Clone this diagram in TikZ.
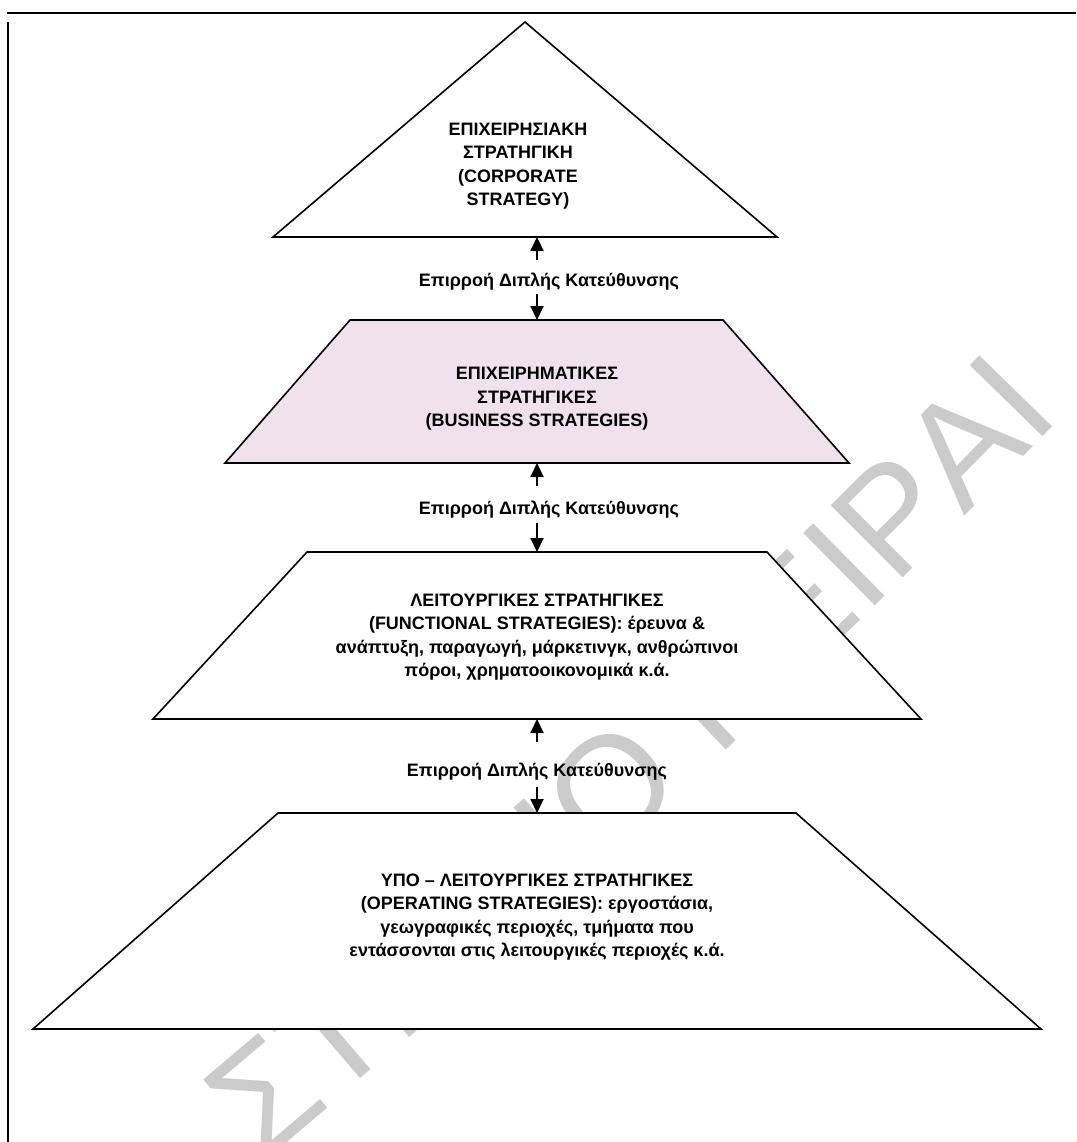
\documentclass[tikz,border=0pt]{standalone}
\usepackage{fontspec}
\setmainfont{Liberation Sans}
\newfontfamily\wmfont{Liberation Sans}
\usetikzlibrary{arrows.meta,decorations.text}
\definecolor{bizpink}{RGB}{239,226,236}
\definecolor{wmgray}{RGB}{203,203,203}
\begin{document}
\begin{tikzpicture}[x=1pt,y=-1pt,
  level/.style={draw=black,line width=1.6pt,line join=miter,fill=white},
  caption/.style={font=\bfseries\fontsize{18}{23.5}\selectfont,align=center,inner sep=0pt},
  influence/.style={font=\bfseries\fontsize{18}{22}\selectfont,inner sep=0pt},
  link/.style={line width=2pt,-{Triangle[width=13pt,length=14pt]}},
  frameline/.style={line width=2pt}
]
\useasboundingbox (0,0) rectangle (1076,1142);

% watermark behind the levels
\begin{scope}
  \clip (0,0) rectangle (1076,1142);
  \path[decorate,decoration={text along path,text color=wmgray,
    text={|\wmfont\fontsize{148}{148}\selectfont|ΣΤΗΜΙΟ ΠΕΙΡΑΙ}}]
    (262,1163) .. controls (515,950) and (820,680) .. (1250,220);
\end{scope}

% page frame
\draw[frameline,line width=2.5pt] (7,13) -- (1076,13);
\draw[frameline] (8,22) -- (8,1142);

% the four levels
\draw[level] (525,22) -- (777,237) -- (273,237) -- cycle;
\draw[level,fill=bizpink] (350,320) -- (723,320) -- (849,463) -- (225,463) -- cycle;
\draw[level] (307,552) -- (767,552) -- (921,719) -- (153,719) -- cycle;
\draw[level] (278,813) -- (796,813) -- (1041,1029) -- (33,1029) -- cycle;

\node[caption] (corp) at (518,166) {ΕΠΙΧΕΙΡΗΣΙΑΚΗ\\ΣΤΡΑΤΗΓΙΚΗ\\(CORPORATE\\STRATEGY)};
\node[caption] (bus) at (537,399) {ΕΠΙΧΕΙΡΗΜΑΤΙΚΕΣ\\ΣΤΡΑΤΗΓΙΚΕΣ\\(BUSINESS STRATEGIES)};
\node[caption] (func) at (537,637) {ΛΕΙΤΟΥΡΓΙΚΕΣ ΣΤΡΑΤΗΓΙΚΕΣ\\(FUNCTIONAL STRATEGIES): έρευνα \&\\ανάπτυξη, παραγωγή, μάρκετινγκ, ανθρώπινοι\\πόροι, χρηματοοικονομικά κ.ά.};
\node[caption] (oper) at (537,917) {ΥΠΟ – ΛΕΙΤΟΥΡΓΙΚΕΣ ΣΤΡΑΤΗΓΙΚΕΣ\\(OPERATING STRATEGIES): εργοστάσια,\\γεωγραφικές περιοχές, τμήματα που\\εντάσσονται στις λειτουργικές περιοχές κ.ά.};

% edge points of the levels
\coordinate (corp-base) at (537,237);
\coordinate (bus-top) at (537,320);
\coordinate (bus-base) at (537,463);
\coordinate (func-top) at (537,552);
\coordinate (func-base) at (537,719);
\coordinate (oper-top) at (537,813);

% two-way influence labels
\node[influence] (inf1) at (549,282) {Επιρροή Διπλής Κατεύθυνσης};
\node[influence] (inf2) at (549,510) {Επιρροή Διπλής Κατεύθυνσης};
\node[influence] (inf3) at (537,772) {Επιρροή Διπλής Κατεύθυνσης};

\coordinate (inf1-up) at (537,260);
\coordinate (inf1-dn) at (537,294);
\coordinate (inf2-up) at (537,486);
\coordinate (inf2-dn) at (537,523);
\coordinate (inf3-up) at (537,742);
\coordinate (inf3-dn) at (537,787);

\draw[link] (inf1-up) -- (corp-base);
\draw[link] (inf1-dn) -- (bus-top);
\draw[link] (inf2-up) -- (bus-base);
\draw[link] (inf2-dn) -- (func-top);
\draw[link] (inf3-up) -- (func-base);
\draw[link] (inf3-dn) -- (oper-top);
\end{tikzpicture}
\end{document}
